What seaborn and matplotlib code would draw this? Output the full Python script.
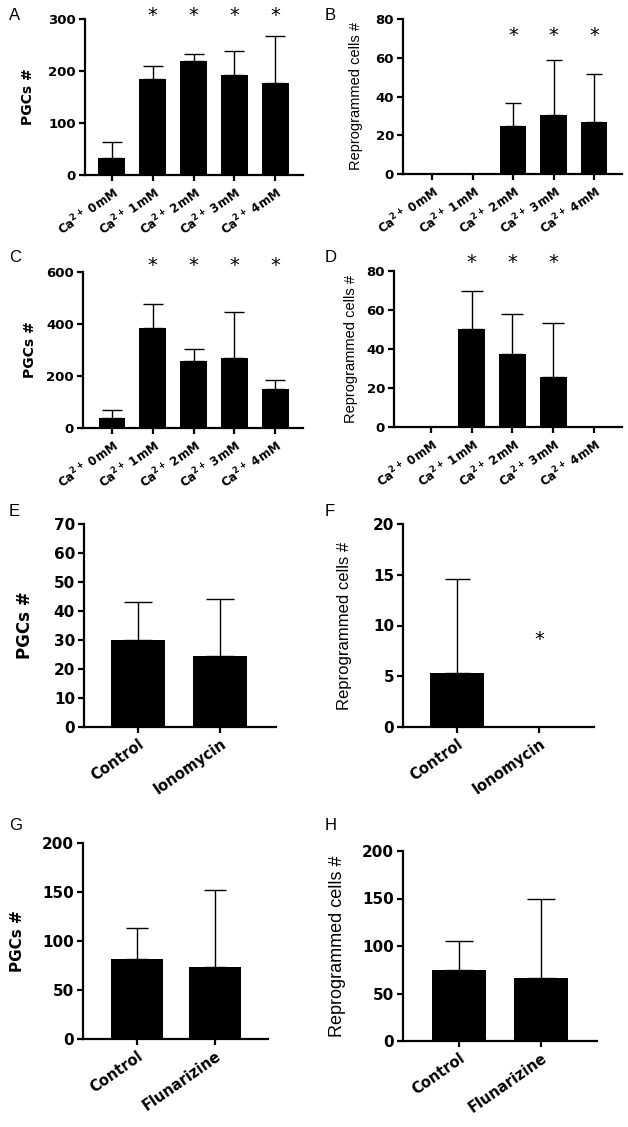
import numpy as np
import pandas as pd
import matplotlib
matplotlib.use("Agg")
import matplotlib.pyplot as plt
import seaborn as sns

sns.set_style("ticks")
plt.rcParams['font.family'] = ['DejaVu Sans']
plt.rcParams['mathtext.fontset'] = 'dejavusans'
plt.rcParams['text.color'] = 'black'
plt.rcParams['axes.labelcolor'] = 'black'

# ---------------- data ----------------
ca_labels = [r"Ca$^{\mathbf{2+}}$ 0mM", r"Ca$^{\mathbf{2+}}$ 1mM", r"Ca$^{\mathbf{2+}}$ 2mM",
             r"Ca$^{\mathbf{2+}}$ 3mM", r"Ca$^{\mathbf{2+}}$ 4mM"]
iono_labels = ["Control", "Ionomycin"]
flun_labels = ["Control", "Flunarizine"]

a_mean = [33, 184, 219, 193, 177]
a_top = [64, 210, 233, 238, 268]
a_star = [False, True, True, True, True]

b_mean = [0, 0, 25, 30.5, 27]
b_top = [np.nan, np.nan, 36.5, 59, 51.5]
b_star = [False, False, True, True, True]

c_mean = [40, 383, 256, 268, 150]
c_top = [70, 478, 305, 445, 186]
c_star = [False, True, True, True, True]

d_mean = [0, 50, 37.5, 25.5, 0]
d_top = [np.nan, 69.5, 58, 53.5, np.nan]
d_star = [False, True, True, True, False]

e_mean = [30, 24.5]
e_top = [43, 44.3]
e_star = [False, False]

f_mean = [5.3, 0]
f_top = [14.6, np.nan]
f_star = [False, True]

g_mean = [82, 73]
g_top = [113, 152]
g_star = [False, False]

h_mean = [74.5, 66.5]
h_top = [105, 150]
h_star = [False, False]

W, H = 628, 1127
fig = plt.figure(figsize=(W / 100, H / 100), dpi=100)


def panel(letter, letter_xy, box, labels, mean, top, star, star_y, ymax, yticks,
          ylabel, ylab_bold, ylab_size, ylab_x, tick_size, xtick_size, capsize, xlim):
    x0, x1, ytop, y0 = box
    ax = fig.add_axes([x0 / W, 1 - y0 / H, (x1 - x0) / W, (y0 - ytop) / H])
    df = pd.DataFrame({"cond": labels, "val": mean})
    sns.barplot(data=df, x="cond", y="val", color="black", width=0.66,
                errorbar=None, ax=ax, saturation=1, edgecolor="black", linewidth=0)
    xs = np.arange(len(labels))
    m = np.array(mean, float)
    t = np.array(top, float)
    ok = ~np.isnan(t)
    ax.errorbar(xs[ok], m[ok], yerr=[np.zeros(ok.sum()), (t - m)[ok]], fmt="none",
                ecolor="black", elinewidth=1.0, capsize=capsize, capthick=1.0, zorder=3)
    for i, s in enumerate(star):
        if s:
            ax.text(xs[i], star_y, "*", ha="center", va="center", fontsize=14,
                    color="black", clip_on=False)
    ax.set_ylim(0, ymax)
    ax.set_xlim(*xlim)
    ax.set_yticks(yticks)
    ax.set_yticklabels([str(v) for v in yticks], fontsize=tick_size, fontweight="bold")
    ax.set_xticks(xs)
    ax.set_xticklabels(labels, rotation=35, ha="right", rotation_mode="anchor",
                       fontsize=xtick_size, fontweight="bold")
    ax.set_xlabel("")
    ax.set_ylabel(ylabel, fontsize=ylab_size, fontweight="bold" if ylab_bold else "normal",
                  family=["Liberation Sans"] if not ylab_bold else ["DejaVu Sans"],
                  color="black", va="center")
    ax.yaxis.set_label_coords((ylab_x - x0) / (x1 - x0), 0.5)
    sns.despine(ax=ax)
    for sp in ("left", "bottom"):
        ax.spines[sp].set_linewidth(1.6)
        ax.spines[sp].set_color("black")
    ax.tick_params(axis="both", width=1.6, length=4.5, color="black", labelcolor="black", pad=2)
    ax.set_facecolor("none")
    fig.text(letter_xy[0] / W, 1 - letter_xy[1] / H, letter, fontsize=12,
             family=["Liberation Sans"], ha="left", va="center", color="black")
    return ax


panel("A", (9, 15), (85, 303, 19, 175), ca_labels, a_mean, a_top, a_star, 306, 300,
      [0, 100, 200, 300], "PGCs #", True, 10, 28, 9.5, 8.5, 7, (-0.66, 4.68))
panel("B", (325, 15), (403, 622, 19, 174), ca_labels, b_mean, b_top, b_star, 71.7, 80,
      [0, 20, 40, 60, 80], "Reprogrammed cells #", False, 10.5, 356, 9.5, 8.5, 5.5, (-0.72, 4.69))
panel("C", (9, 257), (83, 303, 272, 428), ca_labels, c_mean, c_top, c_star, 626, 600,
      [0, 200, 400, 600], "PGCs #", True, 10, 30, 9.5, 8.5, 7, (-0.71, 4.68))
panel("D", (325, 257), (394, 622, 271, 427), ca_labels, d_mean, d_top, d_star, 84.6, 80,
      [0, 20, 40, 60, 80], "Reprogrammed cells #", False, 10.5, 351, 9.5, 8.5, 8, (-0.91, 4.69))
panel("E", (9, 511), (84, 276, 524, 727), iono_labels, e_mean, e_top, e_star, 0, 70,
      list(range(0, 71, 10)), "PGCs #", True, 12, 25, 11, 10.5, 10, (-0.66, 1.68))
panel("F", (325, 511), (403, 594, 524, 727), iono_labels, f_mean, f_top, f_star, 8.6, 20,
      [0, 5, 10, 15, 20], "Reprogrammed cells #", False, 12, 344, 11, 10.5, 9, (-0.66, 1.67))
panel("G", (9, 826), (83, 268, 843, 1039), flun_labels, g_mean, g_top, g_star, 0, 200,
      [0, 50, 100, 150, 200], "PGCs #", True, 11, 17, 11, 10.5, 8, (-0.69, 1.68))
panel("H", (325, 826), (403, 597, 851, 1041), flun_labels, h_mean, h_top, h_star, 0, 200,
      [0, 50, 100, 150, 200], "Reprogrammed cells #", False, 13, 337, 11, 10.5, 10, (-0.68, 1.68))

fig.savefig("out.png", dpi=100, facecolor="white")
